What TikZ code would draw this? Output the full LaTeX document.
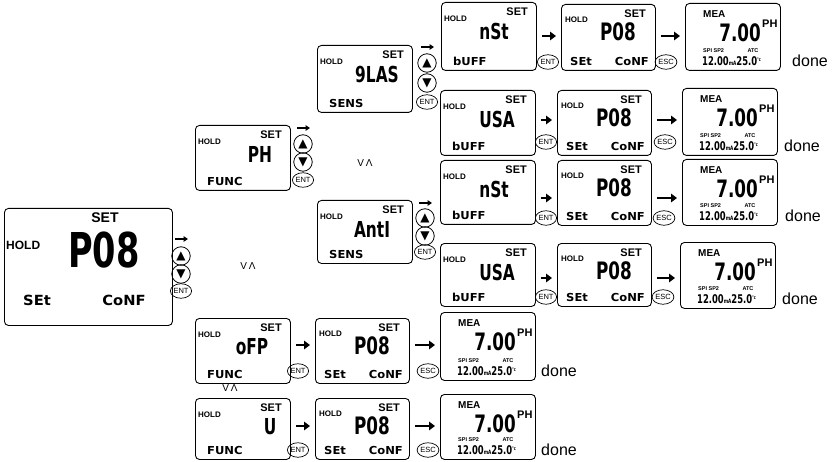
\documentclass[tikz,border=0pt]{standalone}
\usepackage{fontspec}
\setmainfont{Liberation Sans}
\newfontfamily\segfont[FakeStretch=0.7]{DejaVu Sans}
\newfontfamily\segwide[FakeStretch=1.05]{DejaVu Sans}
\newfontfamily\symfont{DejaVu Sans}
\usetikzlibrary{arrows.meta,shapes.geometric}

\tikzset{
  disp/.style={draw, line width=0.9pt, rounded corners=4pt, anchor=north west, inner sep=0pt},
  holdlbl/.style={font=\bfseries\fontsize{8}{8}\selectfont, inner sep=0pt},
  setlbl/.style={font=\bfseries\fontsize{11}{11}\selectfont, inner sep=0pt},
  seg/.style={font=\segfont\bfseries\fontsize{22}{22}\selectfont, inner sep=0pt},
  segsm/.style={font=\segwide\bfseries\fontsize{11}{11}\selectfont, inner sep=0pt},
  btn/.style={draw, circle, line width=0.8pt, minimum size=18.5pt, inner sep=0pt, font=\symfont\fontsize{12}{12}\selectfont},
  keyb/.style={draw, ellipse, line width=0.7pt, minimum width=19pt, minimum height=14.5pt, inner sep=0pt, font=\fontsize{7.5}{7.5}\selectfont},
  flow/.style={-{Triangle[length=6pt,width=8.5pt]}, line width=2.8pt, shorten <=5pt, shorten >=5pt},
  tinyarrow/.style={-{Triangle[length=4.5pt,width=5.5pt]}, line width=1.6pt},
  orlbl/.style={font=\fontsize{10}{10}\selectfont, inner sep=0pt},
  donelbl/.style={font=\fontsize{16}{16}\selectfont, inner sep=0pt, anchor=west},
  tinylbl/.style={font=\bfseries\fontsize{5.5}{5.5}\selectfont, inner sep=0pt}
}

% setting box: name, x0, y0, height, main text, main centre dx, bottom text
\newcommand\modebox[7]{%
  \node[disp, minimum width=95pt, minimum height=#4pt] (#1) at (#2,#3) {};
  \node[setlbl, anchor=east] (#1-set) at (#2+87,#3+10) {SET};
  \node[holdlbl, anchor=west] (#1-hold) at (#2+3,#3+17) {HOLD};
  \node[seg] (#1-main) at (#2+#6,#3+29) {#5};
  \node[segsm, anchor=west] (#1-bot) at (#2+12,#3+#4-9) {#7};
}
% P08 box: name, x0, y0, height
\newcommand\pcfgbox[4]{%
  \node[disp, minimum width=94pt, minimum height=#4pt] (#1) at (#2,#3) {};
  \node[setlbl, anchor=east] (#1-set) at (#2+85,#3+10) {SET};
  \node[holdlbl, anchor=west] (#1-hold) at (#2+4,#3+16) {HOLD};
  \node[font=\segfont\bfseries\fontsize{24}{24}\selectfont, inner sep=0pt] (#1-main) at (#2+57,#3+28) {P08};
  \node[segsm, anchor=west] (#1-l) at (#2+9,#3+#4-9) {SEt};
  \node[segsm, anchor=east] (#1-r) at (#2+88,#3+#4-9) {CoNF};
}
% measuring box: name, x0, y0, height, gap before "done"
\newcommand\meabox[5]{%
  \node[disp, minimum width=95pt, minimum height=#4pt] (#1) at (#2,#3) {};
  \node[font=\bfseries\fontsize{10}{10}\selectfont, inner sep=0pt, anchor=west] (#1-mea) at (#2+18,#3+11) {MEA};
  \node[font=\segfont\bfseries\fontsize{24}{24}\selectfont, inner sep=0pt, anchor=east] (#1-val) at (#2+76,#3+30) {7.00};
  \node[font=\bfseries\fontsize{11}{11}\selectfont, inner sep=0pt, anchor=west] (#1-ph) at (#2+77,#3+21) {PH};
  \node[tinylbl, anchor=west] (#1-sp) at (#2+18,#3+#4-19) {SPI SP2};
  \node[tinylbl] (#1-atc) at (#2+68,#3+#4-19) {ATC};
  \node[font=\segfont\bfseries\fontsize{12}{12}\selectfont, inner sep=0pt, anchor=west] (#1-out) at (#2+17,#3+#4-9)
    {12.00{\fontsize{6}{6}\selectfont mA}25.0\raisebox{4pt}{\fontsize{5}{5}\selectfont °c}};
  \node[donelbl] (#1-done) at (#2+95+#5,#3+#4-9) {done};
}
% key column: name, x, y arrow, y up, y down, y ENT
\newcommand\keycol[6]{%
  \coordinate (#1-a) at (#2-6,#3);
  \coordinate (#1-b) at (#2+7,#3);
  \draw[tinyarrow] (#1-a) -- (#1-b);
  \node[btn] (#1-up) at (#2,#4) {▲};
  \node[btn] (#1-dn) at (#2,#5) {▼};
  \node[keyb] (#1-ent) at (#2,#6) {ENT};
}

\begin{document}
\begin{tikzpicture}[x=1pt,y=-1pt]
\useasboundingbox (0,0) rectangle (834,462);

% big display
\node[disp, minimum width=168pt, minimum height=117pt] (big) at (4,208) {};
\node[font=\bfseries\fontsize{14}{14}\selectfont, inner sep=0pt] (big-set) at (105,218) {SET};
\node[font=\bfseries\fontsize{12}{12}\selectfont, inner sep=0pt, anchor=west] (big-hold) at (6,245) {HOLD};
\node[font=\segfont\bfseries\fontsize{48}{48}\selectfont, inner sep=0pt] (big-main) at (104,250) {P08};
\node[font=\segwide\bfseries\fontsize{14}{14}\selectfont, inner sep=0pt] (big-l) at (37,300) {SEt};
\node[font=\segwide\bfseries\fontsize{14}{14}\selectfont, inner sep=0pt] (big-r) at (124,300) {CoNF};
\keycol{k0}{181}{239}{256}{274}{291}
\node[orlbl] (or0) at (248,266) {V\,Λ};

% function PH
\modebox{ph}{195}{125}{65}{PH}{65}{FUNC}
\keycol{k1}{303}{128}{144}{162}{180}
\node[orlbl] (or1) at (365,163) {V\,Λ};

% sensor boxes
\modebox{glas}{317}{45}{67}{9LAS}{60}{SENS}
\keycol{k2}{427}{47}{63}{83}{102}
\modebox{anti}{317}{200}{63}{AntI}{55}{SENS}
\keycol{k3}{425}{203}{218}{236}{252}

% row 1
\modebox{b1}{441}{2}{68}{nSt}{53}{bUFF}
\pcfgbox{p1}{561}{4}{66}
\meabox{m1}{685}{3}{67}{12}
\coordinate (y1) at (0,36);
\draw[flow] (b1.east |- y1) -- (p1.west |- y1);
\draw[flow] (p1.east |- y1) -- (m1.west |- y1);
\node[keyb] (e1) at (548,62) {ENT};
\node[keyb] (s1) at (666,62) {ESC};

% row 2
\modebox{b2}{440}{90}{65}{USA}{57}{bUFF}
\pcfgbox{p2}{557}{90}{65}
\meabox{m2}{682}{88}{67}{7}
\coordinate (y2) at (0,120);
\draw[flow] (b2.east |- y2) -- (p2.west |- y2);
\draw[flow] (p2.east |- y2) -- (m2.west |- y2);
\node[keyb] (e2) at (546,142) {ENT};
\node[keyb] (s2) at (665,142) {ESC};

% row 3
\modebox{b3}{440}{160}{64}{nSt}{54}{bUFF}
\pcfgbox{p3}{557}{160}{65}
\meabox{m3}{682}{159}{66}{8}
\coordinate (y3) at (0,198);
\draw[flow] (b3.east |- y3) -- (p3.west |- y3);
\draw[flow] (p3.east |- y3) -- (m3.west |- y3);
\node[keyb] (e3) at (546,218) {ENT};
\node[keyb] (s3) at (664,218) {ESC};

% row 4
\modebox{b4}{440}{243}{63}{USA}{57}{bUFF}
\pcfgbox{p4}{557}{243}{63}
\meabox{m4}{680}{242}{66}{7}
\coordinate (y4) at (0,278);
\draw[flow] (b4.east |- y4) -- (p4.west |- y4);
\draw[flow] (p4.east |- y4) -- (m4.west |- y4);
\node[keyb] (e4) at (546,297) {ENT};
\node[keyb] (s4) at (663,297) {ESC};

% row 5 (ORP)
\modebox{b5}{195}{318}{65}{oFP}{57}{FUNC}
\pcfgbox{p5}{315}{318}{65}
\meabox{m5}{440}{312}{68}{6}
\coordinate (y5) at (0,345);
\draw[flow] (b5.east |- y5) -- (p5.west |- y5);
\draw[flow] (p5.east |- y5) -- (m5.west |- y5);
\node[keyb] (e5) at (298,371) {ENT};
\node[keyb] (s5) at (428,371) {ESC};
\node[orlbl] (or2) at (230,388) {V\,Λ};

% row 6 (V)
\modebox{b6}{195}{398}{61}{U}{75}{FUNC}
\pcfgbox{p6}{315}{398}{61}
\meabox{m6}{440}{394}{65}{6}
\coordinate (y6) at (0,426);
\draw[flow] (b6.east |- y6) -- (p6.west |- y6);
\draw[flow] (p6.east |- y6) -- (m6.west |- y6);
\node[keyb] (e6) at (298,450) {ENT};
\node[keyb] (s6) at (428,450) {ESC};
\end{tikzpicture}
\end{document}
